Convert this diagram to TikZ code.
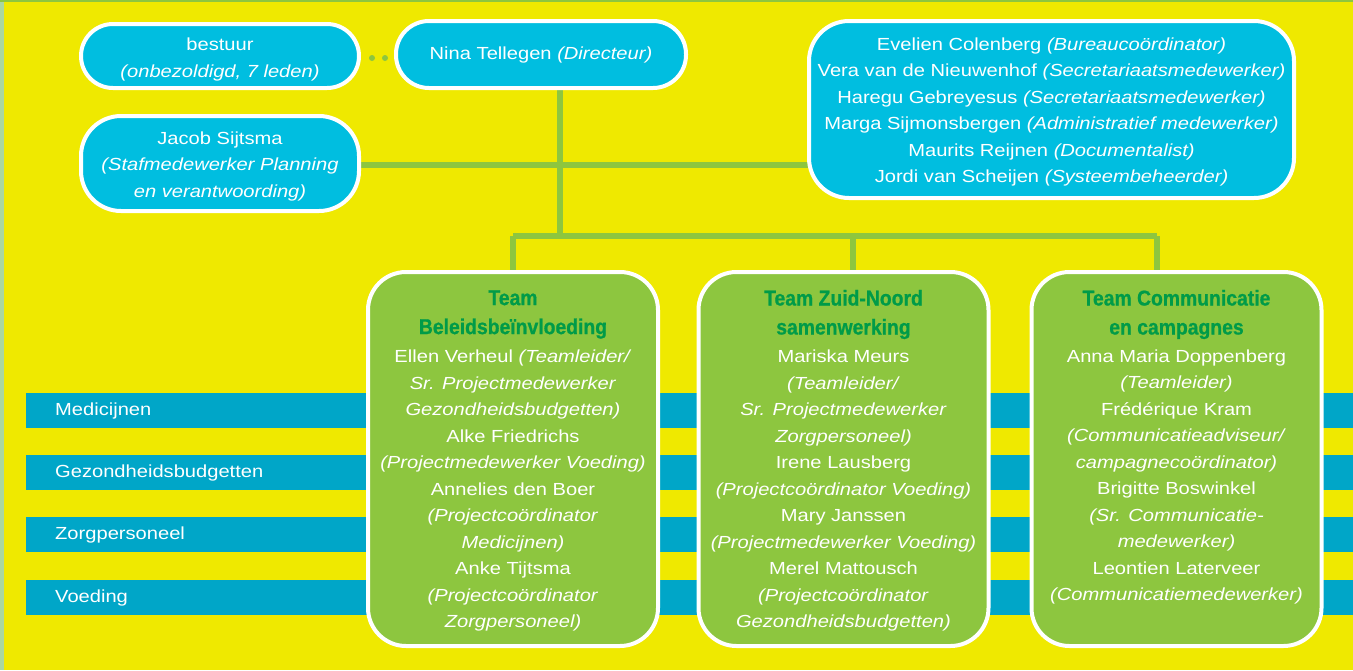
\documentclass[tikz,border=0pt]{standalone}
\usepackage{fontspec}
\setmainfont{Liberation Sans}[FakeStretch=1.15]
\newfontfamily\headfont{Liberation Sans Bold}[FakeStretch=0.9, FakeBold=0.8]
\definecolor{bgyellow}{RGB}{239,233,0}
\definecolor{boxcyan}{RGB}{0,190,224}
\definecolor{bandblue}{RGB}{0,166,200}
\definecolor{linegreen}{RGB}{141,198,63}
\definecolor{headgreen}{RGB}{0,155,72}
\definecolor{edgegreen}{RGB}{170,215,160}
\tikzset{
  cyanbox/.style={draw=white, line width=4pt, fill=boxcyan, rounded corners=#1, inner sep=0pt},
  teambox/.style={draw=white, line width=4pt, fill=linegreen, rounded corners=38pt, inner sep=0pt,
    minimum width=290pt, minimum height=374pt},
  btext/.style={text=white, align=center, inner sep=0pt, font=\fontsize{17.5}{26.5}\selectfont},
  htext/.style={text=headgreen, align=center, inner sep=0pt, font=\headfont\fontsize{21.5}{29}\selectfont},
  band/.style={fill=bandblue},
  bandlabel/.style={text=white, anchor=west, inner sep=0pt, font=\fontsize{17.5}{20}\selectfont},
  conn/.style={draw=linegreen, line width=6pt},
  dot/.style={circle, fill=linegreen, inner sep=0pt, minimum size=6pt}
}
\begin{document}
\begin{tikzpicture}[x=1pt, y=-1pt]
\useasboundingbox (0,0) rectangle (1353,670);
\fill[bgyellow] (0,0) rectangle (1353,670);
\fill[edgegreen] (0,0) rectangle (4,670);
\fill[linegreen] (0,0) rectangle (1353,1.5);

% bands
\fill[band] (26,393) rectangle (1353,428);
\fill[band] (26,455) rectangle (1353,490);
\fill[band] (26,517) rectangle (1353,552);
\fill[band] (26,580) rectangle (1353,615);
\node[bandlabel] (lb1) at (55,411) {Medicijnen};
\node[bandlabel] (lb2) at (55,473) {Gezondheidsbudgetten};
\node[bandlabel] (lb3) at (55,535) {Zorgpersoneel};
\node[bandlabel] (lb4) at (55,598) {Voeding};

% connectors
\coordinate (hmid) at (560,165);
\coordinate (bar) at (560,236);
\coordinate (barL) at (513,236);
\coordinate (barM) at (853,236);
\coordinate (barR) at (1157,236);
\coordinate (ninabot) at (560,88);
\coordinate (jacobR) at (359,165);
\coordinate (staffL) at (809,165);
\path[conn] (ninabot) -- (bar);
\path[conn] (jacobR) -- (staffL);
\path[conn] (barL) -- (barR);
\path[conn] (barL) -- (513,274);
\path[conn] (barM) -- (853,274);
\path[conn] (barR) -- (1157,274);

% boxes
\node[cyanbox=32pt, minimum width=278pt, minimum height=64pt] (bestuur) at (220,56) {};
\node[cyanbox=33pt, minimum width=290pt, minimum height=67pt] (nina) at (541,54.5) {};
\node[cyanbox=40pt, minimum width=278pt, minimum height=95pt] (jacob) at (220,163.5) {};
\node[cyanbox=40pt, minimum width=485pt, minimum height=177pt] (staff) at (1051.5,109.5) {};

\node[dot] (d1) at (372,58) {};
\node[dot] (d2) at (385,58) {};

\node[teambox] (team1) at (513,459) {};
\node[teambox] (team2) at (843.5,459) {};
\node[teambox] (team3) at (1176.5,459) {};

% texts
\node[btext] (tbestuur) at (220,59.5) {bestuur\\\textit{(onbezoldigd, 7 leden)}};
\node[btext] (tnina) at (541,55) {Nina Tellegen \textit{(Directeur)}};
\node[btext] (tjacob) at (220,166) {Jacob Sijtsma\\\textit{(Stafmedewerker Planning}\\\textit{en verantwoording)}};
\node[btext] (tstaff) at (1051.5,112) {Evelien Colenberg \textit{(Bureaucoördinator)}\\
Vera van de Nieuwenhof \textit{(Secretariaatsmedewerker)}\\
Haregu Gebreyesus \textit{(Secretariaatsmedewerker)}\\
Marga Sijmonsbergen \textit{(Administratief medewerker)}\\
Maurits Reijnen \textit{(Documentalist)}\\
Jordi van Scheijen \textit{(Systeembeheerder)}};

\node[htext] (h1) at (513,314.5) {Team\\Beleidsbeïnvloeding};
\node[htext] (h2) at (843.5,314.5) {Team Zuid-Noord\\samenwerking};
\node[htext] (h3) at (1176.5,314.5) {Team Communicatie\\en campagnes};

\node[btext] (b1) at (513,490.5) {Ellen Verheul \textit{(Teamleider/}\\
\textit{Sr. Projectmedewerker}\\
\textit{Gezondheidsbudgetten)}\\
Alke Friedrichs\\
\textit{(Projectmedewerker Voeding)}\\
Annelies den Boer\\
\textit{(Projectcoördinator}\\
\textit{Medicijnen)}\\
Anke Tijtsma\\
\textit{(Projectcoördinator}\\
\textit{Zorgpersoneel)}};

\node[btext] (b2) at (843.5,490.5) {Mariska Meurs\\
\textit{(Teamleider/}\\
\textit{Sr. Projectmedewerker}\\
\textit{Zorgpersoneel)}\\
Irene Lausberg\\
\textit{(Projectcoördinator Voeding)}\\
Mary Janssen\\
\textit{(Projectmedewerker Voeding)}\\
Merel Mattousch\\
\textit{(Projectcoördinator}\\
\textit{Gezondheidsbudgetten)}};

\node[btext] (b3) at (1176.5,477) {Anna Maria Doppenberg\\
\textit{(Teamleider)}\\
Frédérique Kram\\
\textit{(Communicatieadviseur/}\\
\textit{campagnecoördinator)}\\
Brigitte Boswinkel\\
\textit{(Sr. Communicatie-}\\
\textit{medewerker)}\\
Leontien Laterveer\\
\textit{(Communicatiemedewerker)}};
\end{tikzpicture}
\end{document}
